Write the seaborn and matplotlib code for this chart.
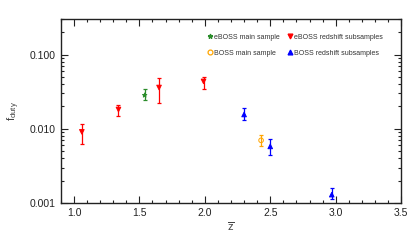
import numpy as np
import pandas as pd
import matplotlib
matplotlib.use("Agg")
import matplotlib.pyplot as plt
import seaborn as sns
from matplotlib.ticker import MultipleLocator, FixedLocator, NullFormatter

# data
ebr_z = [1.06, 1.34, 1.65, 1.99]
ebr_f = [0.0091, 0.0182, 0.036, 0.0435]
ebr_lo = [0.0063, 0.0151, 0.022, 0.0345]
ebr_hi = [0.0117, 0.0207, 0.048, 0.050]

ebm_z = [1.54]
ebm_f = [0.0283]
ebm_lo = [0.0242]
ebm_hi = [0.034]

bm_z = [2.43]
bm_f = [0.0070]
bm_lo = [0.0059]
bm_hi = [0.0083]

br_z = [2.30, 2.50, 2.97]
br_f = [0.0156, 0.0058, 0.0013]
br_lo = [0.0131, 0.0044, 0.00115]
br_hi = [0.0188, 0.0073, 0.0016]

sns.set_style("ticks")
plt.rcParams['font.family'] = ['Liberation Sans', 'DejaVu Sans']
plt.rcParams['mathtext.fontset'] = 'custom'
plt.rcParams['mathtext.rm'] = 'Liberation Sans'
plt.rcParams['mathtext.it'] = 'Liberation Sans'

fig = plt.figure(figsize=(4.2, 2.45), dpi=100)
ax = fig.add_axes([0.145, 0.171, 0.81, 0.751])

groups = [
    ("eBOSS main sample", ebm_z, ebm_f, ebm_lo, ebm_hi, "#2a8c2a", "*", True),
    ("eBOSS redshift subsamples", ebr_z, ebr_f, ebr_lo, ebr_hi, "#ff0000", "v", True),
    ("BOSS main sample", bm_z, bm_f, bm_lo, bm_hi, "#ffa500", "o", False),
    ("BOSS redshift subsamples", br_z, br_f, br_lo, br_hi, "#0000ff", "^", True),
]

rows = []
for name, z, f, lo, hi, c, m, filled in groups:
    z = np.array(z); f = np.array(f)
    ax.errorbar(z, f, yerr=[f - np.array(lo), np.array(hi) - f], fmt='none',
                ecolor=c, elinewidth=0.9, capsize=1.6, capthick=0.9, zorder=2)
    for zi, fi in zip(z, f):
        rows.append({"z": zi, "f": fi, "sample": name})

df = pd.DataFrame(rows)
palette = {g[0]: g[5] for g in groups}
markers = {g[0]: g[6] for g in groups}
sns.scatterplot(data=df, x="z", y="f", hue="sample", style="sample",
                palette=palette, markers=markers, s=11, linewidth=0.7,
                ax=ax, legend=False, zorder=3)
# open circle for BOSS main sample
ax.collections[-1].set_facecolors([
    (1, 1, 1, 0) if s == "BOSS main sample" else palette[s]
    for s in df["sample"]
])
ax.collections[-1].set_edgecolors([palette[s] for s in df["sample"]])

ax.set_yscale('log')
ax.set_xlim(0.9, 3.5)
ax.set_ylim(0.001, 0.3)
ax.xaxis.set_major_locator(FixedLocator([1.0, 1.5, 2.0, 2.5, 3.0, 3.5]))
ax.xaxis.set_minor_locator(MultipleLocator(0.1))
ax.set_xticklabels(["1.0", "1.5", "2.0", "2.5", "3.0", "3.5"])
ax.set_yticks([0.001, 0.01, 0.1])
ax.set_yticklabels(["0.001", "0.010", "0.100"])
ax.yaxis.set_minor_locator(matplotlib.ticker.LogLocator(base=10, subs=np.arange(2, 10)))
ax.yaxis.set_minor_formatter(NullFormatter())
ax.tick_params(which='both', direction='in', top=True, right=True, labelsize=7.5, colors='#222222')
ax.tick_params(which='major', length=5, width=0.8)
ax.tick_params(which='minor', length=2.5, width=0.8)
for s in ax.spines.values():
    s.set_linewidth(1.0)
    s.set_color('#222222')

ax.set_xlabel(r'$\overline{\mathrm{z}}$', fontsize=8, color='#444444', labelpad=2)
ax.set_ylabel(r'f$_{\mathrm{duty}}$', fontsize=8, color='#444444', labelpad=6)

# legend: two rows, column-wise fill
order = [0, 2, 1, 3]
handles = []
for i in order:
    name, z, f, lo, hi, c, m, filled = groups[i]
    h = plt.Line2D([], [], linestyle='none', marker=m, markersize=3.5,
                   markerfacecolor=c if filled else 'none', markeredgecolor=c,
                   markeredgewidth=0.9)
    handles.append(h)
ax.legend(handles, [groups[i][0] for i in order], ncol=2, loc='upper left',
          bbox_to_anchor=(0.41, 0.955), frameon=False, fontsize=5,
          handletextpad=0.1, columnspacing=0.9, labelspacing=1.3,
          handlelength=1.0, labelcolor='#333333')

fig.savefig("out.png", dpi=100)
